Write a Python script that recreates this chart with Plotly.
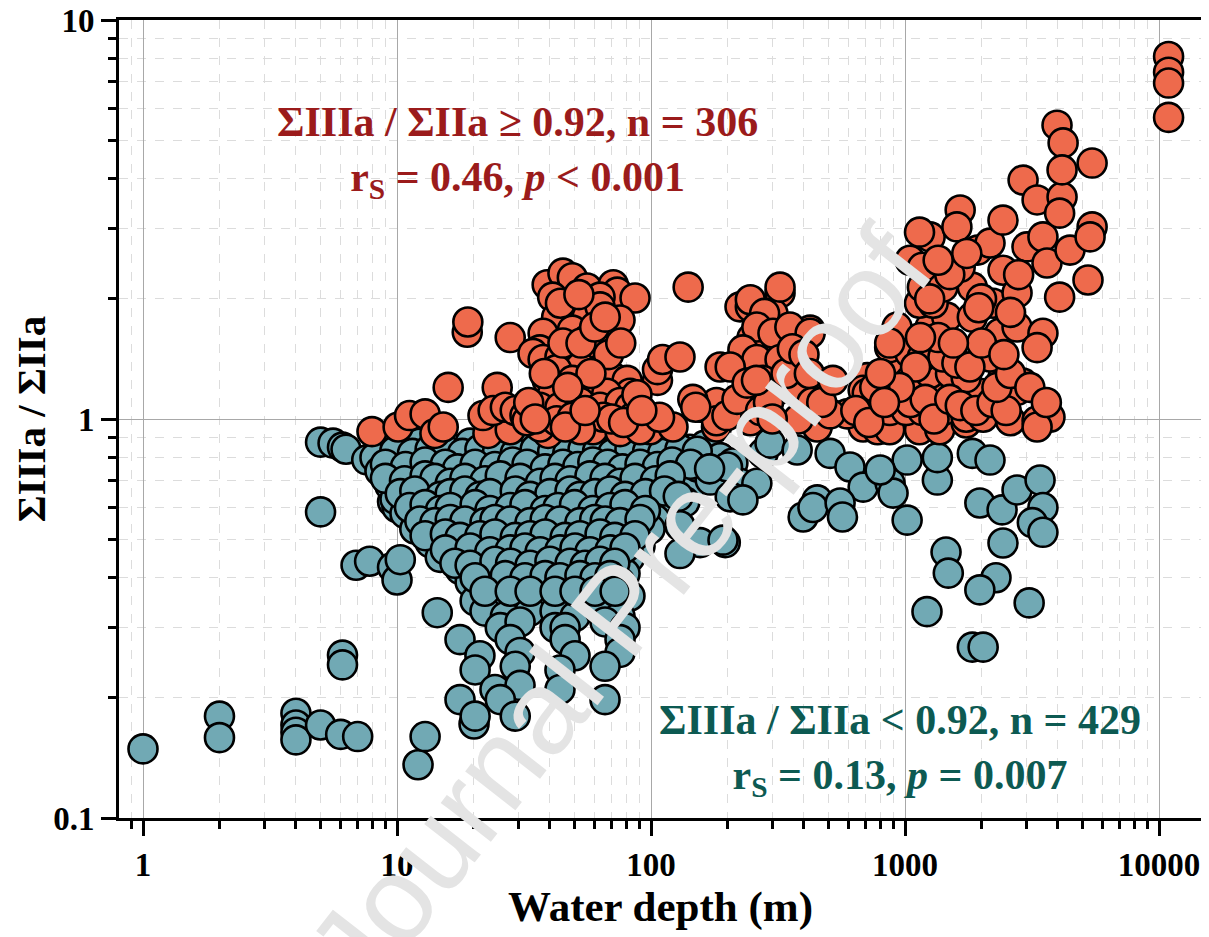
import plotly.graph_objects as go

# ---------------- data ----------------
teal_depth = [
    1, 2, 2, 4, 4, 4, 4, 5, 6, 7,
    5, 6.1, 6.1, 5, 5.6, 6.1, 6.3, 7.6, 8.6, 9.6, 9.6, 10,
    6.9, 7.8, 9.6, 10, 10.3, 12, 13.9, 12.1, 12.9, 14.4, 20.1,
    8.97, 10.75, 12.3, 14.8, 16.9, 19.4, 23.2, 26.7, 31.9, 38.3, 43.8, 50.2, 57.5, 65.9, 75.5, 90.5, 104, 119, 142, 163,
    8.19, 9.82, 11.75, 13.5, 16.2, 18.5, 21.2, 25.5, 30.5, 35.0, 41.9, 48.0, 55.0, 63.0, 72.2, 82.6, 99.1, 113, 130, 156, 187,
    8.57, 10.3, 12.3, 14.8, 16.9, 19.4, 23.2, 27.9, 33.4, 38.3, 43.8, 52.5, 60.2, 69.0, 79.0, 94.7, 108, 124, 149, 179,
    9.38, 11.2, 13.5, 15.5, 17.7, 21.2, 24.3, 29.2, 35.0, 40.0, 45.9, 55.0, 63.0, 72.2, 82.6, 99.1, 119, 142,
    9.82, 12.3, 14.1, 16.9, 19.4, 22.2, 26.7, 31.9, 36.6, 43.8, 50.2, 57.5, 65.9, 75.5, 90.5, 108, 136,
    10.75, 13.5, 15.5, 17.7, 21.2, 25.5, 29.2, 35.0, 40.0, 45.9, 55.0, 63.0, 72.2, 86.5, 104,
    11.75, 14.8, 16.9, 20.3, 23.2, 26.7, 31.9, 36.6, 41.9, 50.2, 57.5, 69.0, 79.0, 99.1, 130,
    13.5, 16.2, 18.5, 22.2, 25.5, 30.5, 35.0, 41.9, 48.0, 55.0, 65.9, 75.5, 90.5, 156, 196,
    14.8, 17.7, 21.2, 24.3, 29.2, 33.4, 38.3, 45.9, 52.5, 60.2, 72.2, 82.6, 130,
    17.7, 22.2, 26.7, 30.5, 36.6, 41.9, 50.2, 57.5, 65.9, 79.0,
    19.4, 24.3, 29.2, 35.0, 40.0, 45.9, 55.0, 63.0, 75.5,
    20.3, 24.3, 30.5, 38.3, 43.8, 55.0, 69.0, 82.6,
    22.2, 26.7, 33.4, 41.9, 50.2, 63.0, 75.5,
    25.5, 30.5, 41.9, 45.9, 65.9, 79.0,
    17.7, 27.9, 45.9, 75.5,
    21.2, 30.5, 50.2, 75.5,
    20.3, 29.2, 43.8, 65.9,
    24.3, 30.5, 43.8,
    17.7, 25.5, 65.9,
    20.3, 29.2,
    152, 171, 192, 210, 224, 261, 276, 294, 205, 200, 230, 376, 397, 451, 434,
    507, 607, 684, 555, 567, 873, 1019, 897, 1019, 1340, 1340, 1840, 2160, 1970, 2410,
    2760, 3400, 3490, 3170, 3490, 2430, 1450, 1480, 2280, 1970, 3080, 1220, 1840, 2030, 798,
    9.8, 11.5, 13.5, 15.8, 18.1, 21.2, 24.9, 29.2, 35.0, 41.0, 47.0, 54.0, 61.6, 70.7, 82.6, 97.0, 111, 130, 152,
    9.0, 10.8, 12.9, 15.5, 17.3, 20.3, 24.3, 28.5, 32.5, 38.3, 45.0, 51.5, 59.0, 67.5, 77.2, 90.5, 106, 121, 143, 170,
    9.0, 10.7, 12.9, 14.1, 16.2, 18.5, 22.2, 25.5, 30.5, 36.6, 41.9, 48.0, 57.5, 65.9, 75.5, 86.5, 104, 119,
    10.3, 11.75, 14.8, 16.2, 18.5, 21.2, 23.2, 29.2, 33.4, 40.0, 48.0, 52.5, 60.2, 69.0, 79.0, 95.0, 113, 128,
    11.2, 12.9, 14.8, 16.2, 20.3, 23.2, 27.9, 31.9, 38.3, 43.0, 50.0, 59.0, 69.0, 79.0, 95.0,
    12.3, 14.1, 16.2, 18.5, 22.2, 24.3, 27.9, 33.4, 38.3, 43.8, 52.5, 60.0, 66.0, 75.5, 90.5,
    12.9, 15.5, 17.7, 21.2, 24.3, 29.2, 33.4, 38.3, 45.9, 52.5, 63.0, 72.0, 86.5,
    15.5, 19.4, 23.2, 27.9, 31.9, 36.6, 43.8, 50.2, 57.5, 69.0, 79.0,
    16.9, 19.4, 24.3, 28.0, 33.4, 40.0, 48.0, 55.0, 63.0, 72.0,
    20.3, 26.7, 31.9, 38.3, 43.8, 52.5, 60.2, 69.0,
    22.2, 27.9, 33.4, 41.9, 50.2, 60.2, 72.2,
]
teal_ratio = [
    0.149, 0.180, 0.159, 0.183, 0.171, 0.164, 0.157, 0.171, 0.162, 0.160,
    0.585, 0.256, 0.242, 0.875, 0.87, 0.85, 0.84, 0.79, 0.745, 0.70, 0.62, 0.60,
    0.43, 0.44, 0.425, 0.395, 0.444, 0.536, 0.506, 0.136, 0.160, 0.327, 0.172,
    0.86, 0.85, 0.87, 0.86, 0.84, 0.87, 0.86, 0.85, 0.87, 0.86, 0.85, 0.87, 0.86, 0.84, 0.86, 0.87, 0.85, 0.86, 0.84, 0.86,
    0.80, 0.79, 0.81, 0.80, 0.78, 0.80, 0.81, 0.79, 0.80, 0.78, 0.80, 0.81, 0.79, 0.80, 0.78, 0.80, 0.81, 0.79, 0.80, 0.78, 0.80,
    0.74, 0.73, 0.75, 0.74, 0.72, 0.74, 0.73, 0.75, 0.74, 0.72, 0.74, 0.75, 0.73, 0.74, 0.72, 0.74, 0.75, 0.73, 0.74, 0.72,
    0.68, 0.67, 0.69, 0.68, 0.66, 0.68, 0.69, 0.67, 0.68, 0.66, 0.68, 0.69, 0.67, 0.68, 0.66, 0.68, 0.69, 0.67,
    0.63, 0.62, 0.64, 0.63, 0.61, 0.63, 0.62, 0.64, 0.63, 0.61, 0.63, 0.64, 0.62, 0.63, 0.61, 0.63, 0.62,
    0.58, 0.57, 0.59, 0.58, 0.56, 0.58, 0.59, 0.57, 0.58, 0.56, 0.58, 0.59, 0.57, 0.58, 0.56,
    0.53, 0.54, 0.52, 0.53, 0.54, 0.52, 0.53, 0.54, 0.53, 0.52, 0.53, 0.54, 0.52, 0.53, 0.54,
    0.49, 0.50, 0.48, 0.49, 0.50, 0.48, 0.49, 0.50, 0.49, 0.48, 0.49, 0.50, 0.48, 0.49, 0.49,
    0.45, 0.46, 0.44, 0.45, 0.46, 0.45, 0.44, 0.45, 0.46, 0.45, 0.44, 0.45, 0.46,
    0.42, 0.41, 0.42, 0.43, 0.41, 0.42, 0.41, 0.42, 0.43, 0.41,
    0.39, 0.38, 0.39, 0.38, 0.39, 0.38, 0.39, 0.38, 0.39,
    0.35, 0.36, 0.35, 0.36, 0.35, 0.36, 0.35, 0.36,
    0.33, 0.32, 0.33, 0.33, 0.32, 0.33, 0.32,
    0.30, 0.31, 0.30, 0.30, 0.31, 0.30,
    0.28, 0.28, 0.28, 0.28,
    0.255, 0.26, 0.255, 0.26,
    0.235, 0.24, 0.235, 0.24,
    0.21, 0.215, 0.21,
    0.198, 0.198, 0.198,
    0.18, 0.18,
    0.758, 0.703, 0.497, 0.776, 0.69, 0.69, 0.82, 0.87, 0.638, 0.758, 0.627, 0.836, 0.568, 0.627, 0.60,
    0.82, 0.758, 0.675, 0.616, 0.568, 0.69, 0.789, 0.652, 0.558, 0.703, 0.80, 0.82, 0.789, 0.616, 0.592,
    0.664, 0.703, 0.60, 0.55, 0.52, 0.489, 0.464, 0.411, 0.40, 0.373, 0.346, 0.329, 0.268, 0.268, 0.745,
    0.83, 0.82, 0.84, 0.83, 0.82, 0.84, 0.83, 0.82, 0.84, 0.83, 0.82, 0.84, 0.83, 0.82, 0.84, 0.83, 0.82, 0.84, 0.83,
    0.77, 0.76, 0.78, 0.77, 0.75, 0.77, 0.76, 0.78, 0.77, 0.75, 0.77, 0.76, 0.78, 0.77, 0.75, 0.77, 0.76, 0.78, 0.77, 0.75,
    0.71, 0.70, 0.72, 0.71, 0.69, 0.71, 0.70, 0.72, 0.71, 0.69, 0.71, 0.70, 0.72, 0.71, 0.69, 0.71, 0.70, 0.72,
    0.65, 0.66, 0.64, 0.65, 0.66, 0.64, 0.65, 0.66, 0.64, 0.65, 0.66, 0.64, 0.65, 0.66, 0.64, 0.65, 0.66, 0.64,
    0.60, 0.61, 0.59, 0.60, 0.61, 0.59, 0.60, 0.61, 0.59, 0.60, 0.61, 0.59, 0.60, 0.61, 0.59,
    0.555, 0.55, 0.56, 0.555, 0.55, 0.56, 0.555, 0.55, 0.56, 0.555, 0.55, 0.56, 0.555, 0.55, 0.56,
    0.51, 0.515, 0.505, 0.51, 0.515, 0.505, 0.51, 0.515, 0.505, 0.51, 0.515, 0.505, 0.51,
    0.47, 0.475, 0.465, 0.47, 0.475, 0.465, 0.47, 0.475, 0.465, 0.47, 0.475,
    0.435, 0.43, 0.44, 0.435, 0.43, 0.44, 0.435, 0.43, 0.44, 0.435,
    0.40, 0.405, 0.40, 0.405, 0.40, 0.405, 0.40, 0.405,
    0.37, 0.37, 0.37, 0.37, 0.37, 0.37, 0.37,
]

orange_depth = [
    7.97, 10.1, 11.2, 12.9, 14.1, 15.2, 15.9, 18.9, 19.0, 27.9, 24.8, 22.8, 27.9, 21.8, 23.9, 26.7, 29.2, 31.9,
    39.3, 36.6, 59.1, 75.5, 99.1, 122, 181, 156, 181, 146, 106, 106, 111, 130, 140, 224,
    39, 45, 49, 56, 71, 73.6, 86.5, 63, 41, 47.9, 42.5, 56, 75.5, 63, 37.6, 49, 56, 61.6,
    36.5, 34.3, 37.6, 43.8, 49, 52.7, 42.5, 39, 49, 63, 71, 80.5, 82.7, 41, 49, 57.6, 67,
    36.5, 43.8, 52.7, 63, 75.5, 82.7, 32.5, 42.5, 49, 65, 85, 52.7, 46, 90.5,
    313, 239, 218, 261, 294, 250, 330, 423, 246, 322, 302, 187, 181, 150, 246, 386, 397,
    451, 684, 710, 684, 591, 507, 780, 870, 1140, 1370, 1740, 870, 1010, 1170, 1410, 1740,
    2030, 2600, 3310, 3720, 3310, 1110, 1340, 1600, 1970, 930, 1046, 1255, 1510, 1740, 2430,
    2910, 2760, 870, 1046, 1170, 1410, 1600, 2030, 2160, 930, 1255, 1460, 1840, 2360, 2760,
    3490, 3310, 1140, 1290, 2220, 1170, 1410, 1840, 1046, 1170, 1648, 1930, 2430, 2760, 1255,
    1140, 2160, 3020, 3490, 3620, 4460, 5250, 4060, 1648, 1600, 2430, 2915, 3310, 4150, 4060,
    5450, 5350, 3965, 4190, 5450, 4150, 10900, 10900, 10900, 10900, 199, 108,
    218, 313, 246, 322, 280, 261, 302, 352, 423, 230, 261, 322, 205, 239, 276, 386, 710, 870,
    1050, 1200, 1300, 1500, 1650, 1900, 2200, 2500, 2300, 1800, 2000, 2600, 1350, 1550, 1100,
    950, 1250, 1500, 2000, 1750, 2800, 3100, 3600, 2450, 1150, 1350, 1950, 2600,
    33, 38, 45, 53, 60, 68, 76, 44, 66, 52, 58, 70, 78, 47, 55, 35, 88, 92,
    270, 290, 340, 360, 400, 420, 380, 430, 260, 300, 470, 520, 640, 720, 760, 800, 830,
]
orange_ratio = [
    0.93, 0.955, 1.02, 1.03, 0.92, 0.955, 1.20, 1.65, 1.75, 1.60, 1.20, 0.92, 0.94, 1.02, 1.05, 1.07, 1.05, 1.02,
    0.92, 0.955, 0.94, 0.93, 0.94, 0.955, 0.955, 1.07, 1.10, 1.12, 1.25, 1.33, 1.41, 1.43, 2.14, 1.91,
    2.17, 2.32, 2.26, 2.13, 2.17, 2.08, 2.01, 2.02, 2.02, 1.91, 1.80, 1.80, 1.77, 1.91, 1.64, 1.67, 1.58, 1.51,
    1.49, 1.46, 1.41, 1.43, 1.46, 1.35, 1.33, 1.25, 1.25, 1.33, 1.27, 1.25, 1.16, 1.16, 1.16, 1.18, 1.16,
    1.07, 1.07, 1.10, 1.07, 1.10, 1.07, 0.99, 0.99, 1.01, 1.01, 1.01, 0.94, 0.955, 0.94,
    1.33, 1.30, 1.35, 1.46, 1.58, 1.60, 1.67, 1.67, 1.91, 2.07, 1.84, 1.35, 0.99, 1.07, 0.99, 1.16, 1.20,
    0.955, 0.955, 1.27, 1.18, 1.03, 1.03, 0.94, 0.94, 0.94, 0.94, 0.977, 1.05, 1.05, 1.05, 1.05, 1.01,
    1.01, 0.99, 0.99, 1.01, 0.955, 1.16, 1.18, 1.16, 1.16, 1.30, 1.25, 1.30, 1.30, 1.27, 1.27,
    1.23, 1.18, 1.51, 1.46, 1.43, 1.43, 1.38, 1.46, 1.43, 1.70, 1.70, 1.80, 1.80, 1.64, 1.70,
    1.64, 1.51, 1.95, 1.95, 1.95, 2.14, 2.14, 2.14, 2.50, 2.40, 2.40, 2.65, 2.36, 2.07, 2.86,
    2.94, 2.76, 2.70, 2.86, 2.46, 2.65, 2.23, 2.02, 3.34, 3.03, 3.15, 3.97, 3.54, 3.60, 3.28,
    3.03, 2.86, 5.45, 4.92, 4.38, 4.21, 8.1, 7.4, 6.95, 5.7, 1.02, 1.01,
    1.12, 1.18, 1.99, 2.14, 1.84, 1.70, 1.64, 1.70, 1.64, 1.49, 1.41, 1.41, 1.35, 1.23, 1.25, 1.20, 1.16, 1.55,
    1.10, 1.12, 1.00, 1.12, 1.08, 1.05, 1.10, 1.05, 1.20, 1.35, 1.55, 1.30, 1.60, 1.55, 1.35,
    1.20, 2.00, 2.30, 2.00, 2.60, 2.30, 1.20, 1.10, 1.45, 1.60, 2.50, 1.90, 1.85,
    1.10, 1.30, 1.55, 1.55, 1.70, 1.45, 1.55, 1.95, 1.80, 2.05, 1.30, 1.00, 0.98, 1.20, 1.05, 1.00, 1.15, 1.05,
    1.05, 1.10, 1.30, 1.50, 1.45, 1.30, 1.00, 1.10, 1.25, 1.00, 1.10, 1.25, 1.05, 0.98, 1.20, 1.30, 1.10,
]

x_tick_vals = [1, 10, 100, 1000, 10000]
x_tick_text = ["1", "10", "100", "1000", "10000"]
y_tick_vals = [0.1, 1, 10]
y_tick_text = ["0.1", "1", "10"]
x_minor_vals = [0.9] + [m * d for d in (1, 10, 100, 1000) for m in range(2, 10)]
y_minor_vals = [m * d for d in (0.1, 1) for m in range(2, 10)]

# ---------------- styling ----------------
TEAL = "#71A9B4"
ORANGE = "#EE6A4C"
RED_TXT = "#9B1B1B"
TEAL_TXT = "#0D5A52"
SERIF = "Liberation Serif"

fig = go.Figure()
marker_line = dict(color="black", width=2.6)
fig.add_trace(go.Scatter(x=teal_depth, y=teal_ratio, mode="markers",
                         marker=dict(size=29, color=TEAL, line=marker_line),
                         showlegend=False))
fig.add_trace(go.Scatter(x=orange_depth, y=orange_ratio, mode="markers",
                         marker=dict(size=29, color=ORANGE, line=marker_line),
                         showlegend=False))

axis_common = dict(
    type="log", showline=True, linecolor="black", linewidth=3, mirror=True,
    ticks="outside", ticklen=15, tickwidth=3, tickcolor="black",
    showgrid=True, gridcolor="#a8a8a8", gridwidth=1, zeroline=False,
    automargin=False, ticklabeloverflow="allow",
    tickfont=dict(family=SERIF, size=33, color="black", weight="bold"),
)

fig.update_xaxes(
    **axis_common, range=[-0.0945, 4.169],
    tickmode="array", tickvals=x_tick_vals, ticktext=x_tick_text,
    minor=dict(tickmode="array", tickvals=x_minor_vals, ticks="outside", ticklen=8,
               tickwidth=2.5, tickcolor="black", showgrid=True,
               gridcolor="#dcdcdc", griddash="dash", gridwidth=1),
    title=dict(text="Water depth (m)", standoff=10,
               font=dict(family=SERIF, size=43, color="black", weight="bold")),
)
fig.update_yaxes(
    **axis_common, range=[-1, 1],
    tickmode="array", tickvals=y_tick_vals, ticktext=y_tick_text,
    minor=dict(tickmode="array", tickvals=y_minor_vals, ticks="outside", ticklen=8,
               tickwidth=2.5, tickcolor="black", showgrid=True,
               gridcolor="#dcdcdc", griddash="dash", gridwidth=1),
    title=dict(text="ΣIIIa / ΣIIa", standoff=0,
               font=dict(family=SERIF, size=41, color="black", weight="bold")),
)

fig.add_annotation(
    xref="paper", yref="paper", x=0.3675, y=0.835, xanchor="center", yanchor="middle",
    text="ΣIIIa / ΣIIa ≥ 0.92, n = 306<br>r<sub>S</sub> = 0.46, <i>p</i> &lt; 0.001",
    showarrow=False, align="center",
    font=dict(family=SERIF, size=42, color=RED_TXT, weight="bold"),
)
fig.add_annotation(
    xref="paper", yref="paper", x=0.721, y=0.085, xanchor="center", yanchor="middle",
    text="ΣIIIa / ΣIIa &lt; 0.92, n = 429<br>r<sub>S</sub> = 0.13, <i>p</i> = 0.007",
    showarrow=False, align="center",
    font=dict(family=SERIF, size=42, color=TEAL_TXT, weight="bold"),
)
# watermark
fig.add_annotation(
    xref="paper", yref="paper", x=0.462, y=0.262, xanchor="center", yanchor="middle",
    text="Journal Pre-proof", textangle=-52, showarrow=False,
    font=dict(family="Liberation Sans", size=120, color="#E4E4E4"),
)

# the page adds an 8 px body margin, so the figure is sized/margined to put
# the plot area at the same window position as the reference
fig.update_layout(
    width=1201, height=929,
    margin=dict(l=111, r=7, t=12, b=119),
    paper_bgcolor="white", plot_bgcolor="white",
)

fig.write_html("out.html")
